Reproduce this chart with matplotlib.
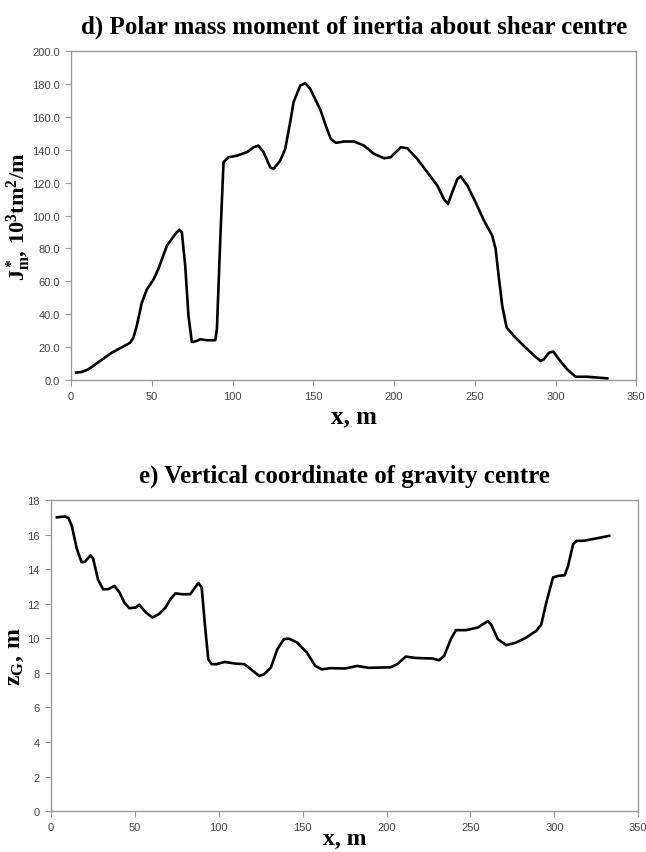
import matplotlib
matplotlib.use("Agg")
import matplotlib.pyplot as plt
from matplotlib.ticker import FormatStrFormatter

plt.rcParams['mathtext.fontset'] = 'custom'
plt.rcParams['mathtext.rm'] = 'Liberation Serif:bold'
plt.rcParams['mathtext.it'] = 'Liberation Serif:bold'
plt.rcParams['mathtext.bf'] = 'Liberation Serif:bold'

# d) polar mass moment of inertia, 10^3 tm^2/m
x_j = [3.1, 6.6, 10.7, 18, 25.2, 33.5, 36.6, 38.6, 40.7, 43.8, 46.9, 51, 54,
       59.3, 64.5, 67, 68.6, 70.7, 72.7, 74.8, 77.9, 80, 84, 89.3, 90.3, 92.4,
       94.4, 97.5, 102.7, 108.9, 113, 116, 119.2, 123.3, 125.4, 129.5, 132.6,
       135.7, 137.8, 141.9, 145, 148.1, 154.5, 157.7, 160.8, 163.9, 169,
       175.3, 181.4, 187.6, 193.8, 197.9, 204.1, 208.2, 214.4, 220.6, 226.8,
       230.9, 233.4, 236, 239.2, 241.2, 245.4, 250.5, 255.7, 260.8, 262.9,
       265, 267, 269.7, 274.2, 280.4, 286.6, 290.7, 292.8, 295.9, 298.6,
       302.1, 307.2, 312.4, 319.6, 332]
j_m = [4.5, 4.9, 6.5, 11.6, 16.6, 21, 22.7, 25.8, 33, 47, 55, 61, 67.4, 81.6,
       88.7, 91.4, 89.7, 69.4, 39, 23.1, 23.8, 24.8, 24.2, 24.2, 30.9, 85.7,
       132.4, 135.4, 136.4, 138.5, 141.5, 142.5, 138.5, 129.3, 128.3, 133.4,
       140.5, 156.8, 169, 179, 180.5, 177, 164, 154.7, 146.6, 144.2, 145, 145,
       142.5, 137.5, 134.8, 135.4, 141.5, 140.9, 134.4, 126.3, 118.2, 110,
       107, 114.1, 122.2, 123.9, 118.2, 108, 96.9, 87.7, 79.6, 61.3, 45, 31.9,
       26.8, 20.7, 15, 11.6, 12.6, 16.6, 17.3, 12.6, 6.5, 2, 2, 1]

# e) vertical coordinate of gravity centre, m
x_z = [3.5, 8.4, 10.4, 12.4, 15.3, 18.2, 20.2, 23.5, 25.1, 28, 31, 33.9,
       37.8, 40.8, 43.7, 46.7, 50.6, 52.5, 56.5, 60.4, 64.3, 68.2, 71.2, 74.1,
       78, 82.9, 85.9, 87.8, 89.8, 91.8, 93.7, 95.7, 98.6, 103.5, 109.4,
       115.3, 119.2, 124.1, 127, 131, 134.9, 138.8, 141.8, 146.7, 152.5,
       157.5, 161.4, 166.5, 175.4, 182.4, 189.4, 202.4, 206.4, 211.4, 217.4,
       227.3, 231.3, 234.3, 238.3, 241.3, 247.3, 254.3, 260.3, 262.3, 266.3,
       271.3, 277.2, 283.2, 289.2, 292.2, 295.2, 299.2, 302.2, 306.2, 308.2,
       311.2, 313.2, 317.2, 325.1, 332.7]
z_g = [17.0, 17.05, 16.96, 16.5, 15.2, 14.4, 14.43, 14.8, 14.6, 13.4, 12.84,
       12.84, 13.03, 12.65, 12.07, 11.74, 11.78, 11.94, 11.5, 11.2, 11.4,
       11.78, 12.26, 12.6, 12.55, 12.55, 12.94, 13.2, 12.94, 10.7, 8.79, 8.5,
       8.5, 8.63, 8.54, 8.5, 8.2, 7.82, 7.92, 8.3, 9.37, 9.95, 9.98, 9.75,
       9.17, 8.4, 8.2, 8.27, 8.25, 8.4, 8.29, 8.32, 8.5, 8.94, 8.86, 8.83,
       8.73, 8.98, 9.95, 10.47, 10.47, 10.62, 10.99, 10.8, 9.95, 9.6, 9.75,
       10.04, 10.43, 10.8, 12.07, 13.52, 13.61, 13.65, 14.2, 15.45, 15.64,
       15.64, 15.78, 15.93]

x_ticks = [0, 50, 100, 150, 200, 250, 300, 350]

fig = plt.figure(figsize=(6.46, 8.53), dpi=100)
ax1 = fig.add_axes([0.110, 0.5533, 0.875, 0.3857])
ax2 = fig.add_axes([0.079, 0.048, 0.909, 0.3646])

serif = 'Liberation Serif'


def style(ax):
    for s in ax.spines.values():
        s.set_color('#999999')
        s.set_linewidth(1.0)
    ax.tick_params(direction='out', length=4, width=0.8, color='#999999',
                   labelcolor='#444444', pad=4)
    for lab in ax.get_xticklabels() + ax.get_yticklabels():
        lab.set_fontfamily('Liberation Sans')
        lab.set_fontsize(8)


ax1.plot(x_j, j_m, color='black', lw=1.9, solid_joinstyle='round')
ax1.set_xlim(0, 350)
ax1.set_ylim(0, 200)
ax1.set_xticks(x_ticks)
ax1.set_yticks(range(0, 201, 20))
ax1.yaxis.set_major_formatter(FormatStrFormatter('%.1f'))
style(ax1)
ax1.set_title('d) Polar mass moment of inertia about shear centre',
              family=serif, weight='bold', fontsize=18, pad=13)
ax1.set_xlabel('x, m', family=serif, weight='bold', fontsize=18, labelpad=2)
ax1.set_ylabel(r'$\mathrm{J_m^*,\,10^3 tm^2/m}$', fontsize=16)
ax1.yaxis.set_label_coords(-0.068, 0.5)

ax2.plot(x_z, z_g, color='black', lw=1.9, solid_joinstyle='round')
ax2.set_xlim(0, 350)
ax2.set_ylim(0, 18)
ax2.set_xticks(x_ticks)
ax2.set_yticks(range(0, 19, 2))
style(ax2)
ax2.set_title('e) Vertical coordinate of gravity centre',
              family=serif, weight='bold', fontsize=18, pad=13)
ax2.set_xlabel('x, m', family=serif, weight='bold', fontsize=17, labelpad=-3)
ax2.set_ylabel(r'$\mathrm{z_G,\,m}$', fontsize=17)
ax2.yaxis.set_label_coords(-0.042, 0.5)

fig.savefig('out.png', dpi=100)
